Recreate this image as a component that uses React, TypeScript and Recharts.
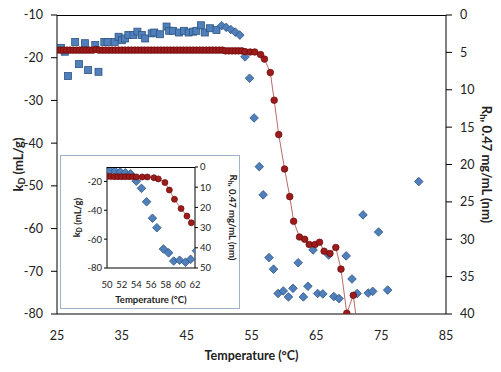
import React from "react";
import { ComposedChart, Scatter, XAxis, YAxis, Label } from "recharts";

const FONT = "Lato, 'Open Sans', sans-serif";
const INK = "#222";
const BLUE = "#5080bb";
const BLUE_EDGE = "#2e5482";
const RED = "#9e1b1b";
const RED_EDGE = "#660a0a";
const RED_LINE = "#b05a58";

// plot-area layout (pixels)
const MAIN_TOP = 15;
const MAIN_LEFT = 57;
const MAIN_RIGHT_W = 55;
const INSET_TOP = 11;
const INSET_LEFT = 46;
const INSET_RIGHT_W = 44;

// axes
const xTicks = [25, 35, 45, 55, 65, 75, 85];
const kdTicks = [-80, -70, -60, -50, -40, -30, -20, -10];
const rhTicks = [0, 5, 10, 15, 20, 25, 30, 35, 40];
const insetXTicks = [50, 52, 54, 56, 58, 60, 62];
const insetKdTicks = [-80, -60, -40, -20];
const insetRhTicks = [0, 10, 20, 30, 40, 50];

// kD, squares (low temperature run)
const squareTemp = [
  25.6, 26.2, 26.7, 27.8, 28.4, 29.3, 29.8, 30.9, 31.4, 32.3, 32.8, 33.9,
  34.5, 35.0, 35.5, 36.0, 36.8, 37.4, 38.1, 38.6, 39.6, 40.0, 40.9, 41.9,
  42.3, 42.9, 43.8, 44.6, 45.3, 46.0, 46.5, 47.2, 47.8, 48.6, 49.6
];
const squareKd = [
  -17.7, -18.6, -24.3, -16.3, -21.5, -16.6, -22.9, -17.0, -23.3, -16.3, -16.3,
  -16.3, -15.1, -15.9, -15.5, -14.7, -14.7, -13.9, -14.7, -15.5, -14.3, -14.1,
  -14.5, -12.7, -13.7, -13.7, -14.1, -13.7, -14.1, -13.9, -13.7, -12.4, -14.1,
  -13.1, -13.5
];

// kD, diamonds (high temperature run)
const diamondTemp = [
  50.4, 51.1, 51.8, 52.5, 53.2, 54.0, 54.7, 55.4, 56.2, 56.8, 57.7, 58.4,
  59.1, 59.9, 60.7, 61.4, 62.2, 63.0, 63.7, 64.5, 65.2, 66.0, 66.9, 67.7,
  68.5, 69.6, 70.5, 71.3, 72.2, 73.0, 73.7, 74.6, 76.0, 80.8
];
const diamondKd = [
  -12.5, -12.9, -13.4, -14.0, -14.7, -19.8, -24.8, -34.1, -45.5, -52.1, -66.8,
  -69.5, -75.2, -74.6, -76.0, -74.0, -68.0, -76.0, -73.5, -65.0, -75.2, -75.3,
  -66.2, -75.9, -76.4, -66.4, -71.8, -75.2, -56.8, -75.1, -74.7, -60.8, -74.4,
  -49.0
];

// Rh at 0.47 mg/mL
const rhTemp = [
  25.0, 25.5, 26.0, 26.5, 27.0, 27.5, 28.0, 28.5, 29.0, 29.5, 30.0, 30.5,
  31.0, 31.5, 32.0, 32.5, 33.0, 33.5, 34.0, 34.5, 35.0, 35.5, 36.0, 36.5,
  37.0, 37.5, 38.0, 38.5, 39.0, 39.5, 40.0, 40.5, 41.0, 41.5, 42.0, 42.5,
  43.0, 43.5, 44.0, 44.5, 45.0, 45.5, 46.0, 46.5, 47.0, 47.5, 48.0, 48.5,
  49.0, 49.5, 50.0, 50.5, 51.0, 51.5, 52.0, 52.5, 53.0, 53.5, 54.0, 54.8,
  55.5, 56.4, 57.0, 57.9, 58.5, 59.2, 60.1, 60.9, 61.5, 62.4, 63.2, 63.9,
  64.8, 65.5, 66.2, 67.1, 68.0, 68.8, 69.7, 70.7, 71.45
];
const rhValue = [
  4.7, 4.7, 4.7, 4.7, 4.7, 4.7, 4.7, 4.7, 4.7, 4.7, 4.7, 4.7,
  4.6, 4.7, 4.7, 4.7, 4.7, 4.7, 4.7, 4.7, 4.7, 4.7, 4.7, 4.7,
  4.7, 4.7, 4.7, 4.7, 4.7, 4.7, 4.7, 4.7, 4.7, 4.7, 4.7, 4.7,
  4.7, 4.7, 4.7, 4.7, 4.7, 4.7, 4.7, 4.7, 4.7, 4.7, 4.7, 4.7,
  4.7, 4.7, 4.7, 4.7, 4.8, 4.8, 4.8, 4.8, 4.8, 4.8, 4.9, 4.95,
  4.95, 5.3, 5.9, 7.7, 11.4, 16.0, 20.6, 24.3, 27.6, 29.7, 30.0, 30.7,
  30.7, 30.4, 31.6, 31.9, 31.1, 34.0, 39.9, 37.5, 42.5
];

const squares = squareTemp.map((t, i) => ({ t, kd: squareKd[i] }));
const diamonds = diamondTemp.map((t, i) => ({ t, kd: diamondKd[i] }));
const radius = rhTemp.map((t, i) => ({ t, rh: rhValue[i] }));

const insetDiamonds = diamonds.filter((d) => d.t >= 49.5 && d.t <= 62.5);
const insetRadius = radius.filter((d) => d.t >= 49.5 && d.t <= 62.5);

function Square(props: any) {
  const { cx, cy } = props;
  if (cx == null || cy == null) return null;
  return (
    <rect x={cx - 3.5} y={cy - 3.5} width={7} height={7} fill={BLUE} stroke={BLUE_EDGE} strokeWidth={0.8} />
  );
}

function makeDiamond(h: number) {
  return (props: any) => {
    const { cx, cy } = props;
    if (cx == null || cy == null) return null;
    const pts = `${cx},${cy - h} ${cx + h},${cy} ${cx},${cy + h} ${cx - h},${cy}`;
    return <polygon points={pts} fill={BLUE} stroke={BLUE_EDGE} strokeWidth={0.8} />;
  };
}

function makeDot(r: number) {
  return (props: any) => {
    const { cx, cy } = props;
    if (cx == null || cy == null) return null;
    return <circle cx={cx} cy={cy} r={r} fill={RED} stroke={RED_EDGE} strokeWidth={0.7} />;
  };
}

function xTitle(size: number, dy: number) {
  return (props: any) => {
    const vb = props.viewBox;
    return (
      <text x={vb.x + vb.width / 2} y={vb.y + dy} textAnchor="middle" fontFamily={FONT} fontWeight="bold" fontSize={size} fill={INK}>
        Temperature (°C)
      </text>
    );
  };
}

function kdTitle(size: number, dx: number) {
  return (props: any) => {
    const vb = props.viewBox;
    const x = vb.x + dx;
    const y = vb.y + vb.height / 2;
    return (
      <text x={x} y={y} transform={`rotate(-90 ${x} ${y})`} textAnchor="middle" dominantBaseline="central" fontFamily={FONT} fontWeight="bold" fontSize={size} fill={INK}>
        k<tspan dy={size * 0.25} fontSize={size * 0.7}>D</tspan>
        <tspan dy={-size * 0.25}> (mL/g)</tspan>
      </text>
    );
  };
}

function rhTitle(size: number, dx: number) {
  return (props: any) => {
    const vb = props.viewBox;
    const x = vb.x + dx;
    const y = vb.y + vb.height / 2;
    return (
      <text x={x} y={y} transform={`rotate(90 ${x} ${y})`} textAnchor="middle" dominantBaseline="central" fontFamily={FONT} fontWeight="bold" fontSize={size} fill={INK}>
        R<tspan dy={size * 0.25} fontSize={size * 0.7}>h</tspan>
        <tspan dy={-size * 0.25}>, 0.47 mg/mL (nm)</tspan>
      </text>
    );
  };
}

const mainTick = { fill: INK, fontSize: 12.5, fontFamily: FONT };
const insetTick = { fill: INK, fontSize: 9.5, fontFamily: FONT };
const black = { stroke: "#000" };

// top edge of the plot frame
function FrameTop(props: { left: number; top: number; width: number }) {
  return (
    <div
      style={{
        position: "absolute",
        left: props.left,
        top: props.top - 0.5,
        width: props.width,
        height: 0,
        borderTop: "1px solid #000",
        pointerEvents: "none"
      }}
    />
  );
}

function Inset() {
  const w = 178;
  return (
    <div
      style={{
        position: "absolute",
        left: 60,
        top: 155,
        width: 180,
        height: 154,
        boxSizing: "border-box",
        border: "1px solid #9fb3c8",
        background: "#fff"
      }}
    >
      <ComposedChart width={w} height={152} margin={{ top: INSET_TOP, right: 0, bottom: 0, left: 0 }}>
        <XAxis xAxisId="b" type="number" dataKey="t" domain={[50, 62]} ticks={insetXTicks} allowDataOverflow
          height={40} tickSize={0} tickMargin={13} tickLine={false} axisLine={black} tick={insetTick}>
          <Label content={xTitle(9.5, 35)} />
        </XAxis>
        <YAxis yAxisId="kd" type="number" dataKey="kd" domain={[-80, -10]} ticks={insetKdTicks} allowDataOverflow
          width={INSET_LEFT} tickSize={3} tickMargin={2} axisLine={black} tickLine={black} tick={insetTick}>
          <Label content={kdTitle(9.5, 15.5)} />
        </YAxis>
        <YAxis yAxisId="rh" orientation="right" type="number" dataKey="rh" domain={[0, 50]} ticks={insetRhTicks}
          reversed allowDataOverflow width={INSET_RIGHT_W} tickSize={3} tickMargin={2} axisLine={black} tickLine={black} tick={insetTick}>
          <Label content={rhTitle(9.5, 38)} />
        </YAxis>
        <Scatter xAxisId="b" yAxisId="kd" data={insetDiamonds} shape={makeDiamond(4.3)} isAnimationActive={false} />
        <Scatter xAxisId="b" yAxisId="rh" data={insetRadius} shape={makeDot(3)} line={{ stroke: RED_LINE, strokeWidth: 0.8 }}
          lineType="joint" isAnimationActive={false} />
      </ComposedChart>
      <FrameTop left={INSET_LEFT} top={INSET_TOP} width={w - INSET_LEFT - INSET_RIGHT_W} />
    </div>
  );
}

export default function App() {
  const w = 501;
  return (
    <div style={{ position: "absolute", left: 0, top: 0, width: w, height: 372, background: "#fff" }}>
      <ComposedChart width={w} height={372} margin={{ top: MAIN_TOP, right: 0, bottom: 0, left: 0 }}>
        <XAxis xAxisId="b" type="number" dataKey="t" domain={[25, 85]} ticks={xTicks} allowDataOverflow
          height={58} tickSize={0} tickMargin={17} tickLine={false} axisLine={black} tick={mainTick}>
          <Label content={xTitle(12.5, 46)} />
        </XAxis>
        <YAxis yAxisId="kd" type="number" dataKey="kd" domain={[-80, -10]} ticks={kdTicks} allowDataOverflow
          width={MAIN_LEFT} tickSize={6} tickMargin={8} axisLine={black} tickLine={black} tick={mainTick}>
          <Label content={kdTitle(13, 18)} />
        </YAxis>
        <YAxis yAxisId="rh" orientation="right" type="number" dataKey="rh" domain={[0, 40]} ticks={rhTicks}
          reversed allowDataOverflow width={MAIN_RIGHT_W} tickSize={6} tickMargin={8} axisLine={black} tickLine={black} tick={mainTick}>
          <Label content={rhTitle(13, 41)} />
        </YAxis>
        <Scatter xAxisId="b" yAxisId="kd" data={squares} shape={Square} isAnimationActive={false} />
        <Scatter xAxisId="b" yAxisId="kd" data={diamonds} shape={makeDiamond(4.3)} isAnimationActive={false} />
        <Scatter xAxisId="b" yAxisId="rh" data={radius} shape={makeDot(3.3)} line={{ stroke: RED_LINE, strokeWidth: 0.9 }}
          lineType="joint" isAnimationActive={false} />
      </ComposedChart>
      <FrameTop left={MAIN_LEFT} top={MAIN_TOP} width={w - MAIN_LEFT - MAIN_RIGHT_W} />
      <Inset />
    </div>
  );
}
